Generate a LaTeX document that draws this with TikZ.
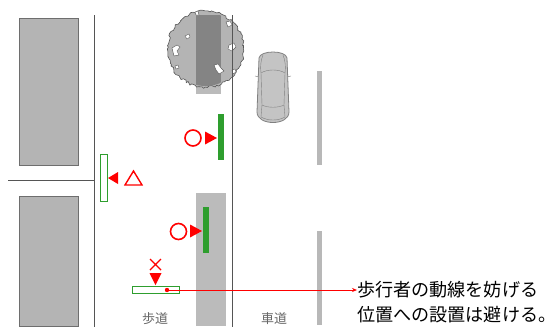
\documentclass[tikz,border=0pt]{standalone}
\usepackage{fontspec}
\newfontfamily\jpfont{Noto Sans CJK JP}
\usetikzlibrary{decorations.pathmorphing,arrows.meta}
\definecolor{bldgray}{HTML}{B4B4B4}
\definecolor{edgegray}{HTML}{6E6E6E}
\definecolor{linegray}{HTML}{555555}
\definecolor{stripgray}{HTML}{BBBBBB}
\definecolor{treedark}{HTML}{848484}
\definecolor{lanegray}{HTML}{B8B8B8}
\definecolor{signgreen}{HTML}{2E9E2E}
\definecolor{labelgray}{HTML}{666666}
\definecolor{carbody}{HTML}{C4C4C4}
\definecolor{carline}{HTML}{808080}
\begin{document}
\begin{tikzpicture}[x=1pt,y=-1pt,
  block/.style={fill=bldgray,draw=edgegray,line width=0.8pt},
  kerb/.style={draw=linegray,line width=1pt},
  strip/.style={fill=stripgray,draw=none},
  lane/.style={fill=lanegray,draw=none},
  signbar/.style={fill=signgreen,draw=none},
  signframe/.style={fill=white,draw=signgreen,line width=1pt},
  pointer/.style={fill=red,draw=none},
  redmark/.style={draw=red,line width=1.6pt},
  gap/.style={fill=white,draw=linegray,line width=0.4pt},
  carshell/.style={fill=carbody,draw=carline,line width=0.8pt},
  cardetail/.style={draw=carline,line width=0.4pt},
  area/.style={font=\jpfont\fontsize{13}{13}\selectfont,text=labelgray,inner sep=0pt},
  note/.style={font=\jpfont\fontsize{18.1}{25}\selectfont,align=left,inner sep=0pt,anchor=west},
  leader/.style={draw=red,line width=0.8pt,-{Stealth[length=5pt,width=4pt]}}]

\useasboundingbox (0,0) rectangle (556,327);

% buildings
\path[block] (19,18) rectangle (78,165);
\path[block] (19,196) rectangle (78,326);

% back of sidewalk and side street
\draw[kerb] (94,15) -- (94,327);
\draw[kerb] (8,180) -- (94,180);

% planting strip with tree
\path[strip] (196,15) rectangle (221,94);
\pgfmathsetseed{7}
\path[fill=bldgray,draw=linegray,line width=0.6pt,
  decorate,decoration={random steps,segment length=2.2pt,amplitude=1.3pt}]
  (205.5,49) circle[radius=38];
\begin{scope}
  \clip (205.5,49) circle[radius=37];
  \path[fill=treedark] (196,15) rectangle (221,94);
\end{scope}
% gaps in the canopy
\path[gap] (172,48) -- (177,45) -- (180,47) -- (177,51) -- (179,55) -- (174,56) -- cycle;
\path[gap] (185,36) -- (189,34) -- (190,37) -- (187,39) -- cycle;
\path[gap] (226,22) -- (230,21) -- (232,25) -- (228,27) -- cycle;
\path[gap] (229,45) -- (234,43) -- (236,47) -- (232,51) -- (228,49) -- cycle;
\path[gap] (214,65) -- (218,64) -- (221,68) -- (224,71) -- (219,74) -- (216,70) -- cycle;
\path[gap] (195,12) -- (198,11) -- (199,15) -- (196,15) -- cycle;
\path[gap] (175,66) -- (178,65) -- (179,68) -- (176,69) -- cycle;
\path[gap] (232,70) -- (235,69) -- (236,72) -- (233,74) -- cycle;

% kerb between sidewalk and carriageway
\draw[kerb] (232,15) -- (232,327);

% lower planting strip
\path[strip] (196,193) rectangle (226,326);

% lane markings
\path[lane] (317,71) rectangle (322,165);
\path[lane] (317,231) rectangle (322,325);

% parked car, seen from above
\path[carshell]
  (259,58) .. controls (260,50) and (286,50) .. (287,58)
  -- (289,112) .. controls (289,126) and (257,126) .. (257,112) -- cycle;
\draw[cardetail] (261,73) .. controls (267,69) and (279,69) .. (285,73);
\draw[cardetail] (261,73) -- (262,105);
\draw[cardetail] (285,73) -- (284,105);
\draw[cardetail] (262,105) .. controls (268,108) and (278,108) .. (284,105);
\draw[cardetail] (261,73) .. controls (260,66) and (261,60) .. (263,55);
\draw[cardetail] (285,73) .. controls (286,66) and (285,60) .. (283,55);
\draw[cardetail] (255,76) -- (259,77);
\draw[cardetail] (291,76) -- (287,77);
\draw[cardetail] (262,105) -- (261,117);
\draw[cardetail] (284,105) -- (285,117);
\draw[cardetail] (261,117) .. controls (268,121) and (278,121) .. (285,117);

% signboard beside the side street (acceptable)
\node[signframe,minimum width=7pt,minimum height=47pt,inner sep=0pt] (boardA) at (103.5,177.5) {};
\path[pointer] (108,178) -- (118,172) -- (118,184) -- cycle;
\draw[redmark,line width=1.4pt,line join=miter] (125,185) -- (133.5,171) -- (142,185) -- cycle;

% signboard at the edge of the sidewalk (good)
\node[signbar,minimum width=6pt,minimum height=46pt,inner sep=0pt] (boardB) at (221,137) {};
\path[pointer] (217,138) -- (205,131.5) -- (205,144.5) -- cycle;
\draw[redmark] (193,138) circle[radius=8];

% signboard in the planting strip (good)
\node[signbar,minimum width=6pt,minimum height=46pt,inner sep=0pt] (boardC) at (206,230) {};
\path[pointer] (202,231) -- (190,224.5) -- (190,237.5) -- cycle;
\draw[redmark] (178.5,231.5) circle[radius=8];

% signboard across the walking path (to be avoided)
\node[signframe,minimum width=47pt,minimum height=7pt,inner sep=0pt] (boardD) at (155.5,289.5) {};
\path[pointer] (155.5,285) -- (149.5,273) -- (161.5,273) -- cycle;
\draw[redmark,line width=1.4pt] (150,259) -- (161,270) (161,259) -- (150,270);
\fill[red] (167,290) circle[radius=2.2] coordinate (dot);

% labels
\node[area] (walk) at (155,319) {歩道};
\node[area] (road) at (274,319) {車道};
\node[note] (rule) at (357,302) {歩行者の動線を妨げる\\位置への設置は避ける。};
\draw[leader] (dot) -- (rule.west |- dot);
\end{tikzpicture}
\end{document}
